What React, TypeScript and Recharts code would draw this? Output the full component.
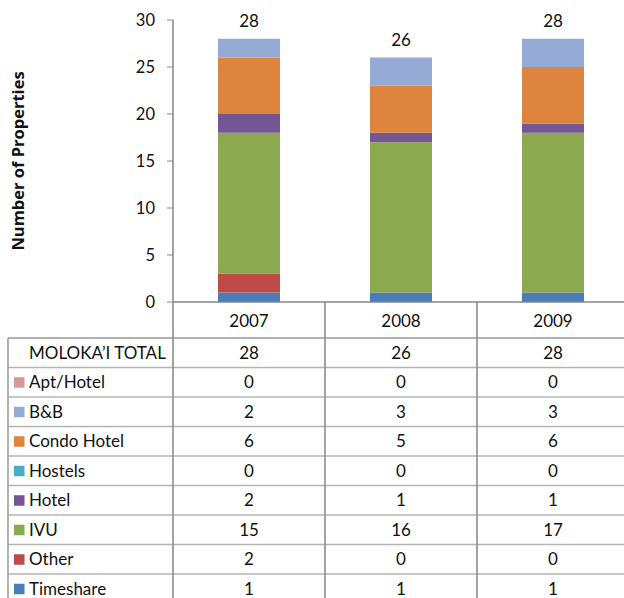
import React from 'react';
import * as Recharts from 'recharts';
import { BarChart, Bar, XAxis, YAxis, LabelList, Customized } from 'recharts';

const years = ['2007', '2008', '2009'];
const totals = [28, 26, 28];
const aptHotel = [0, 0, 0];
const bnb = [2, 3, 3];
const condoHotel = [6, 5, 6];
const hostels = [0, 0, 0];
const hotel = [2, 1, 1];
const ivu = [15, 16, 17];
const other = [2, 0, 0];
const timeshare = [1, 1, 1];
const yTicks = [0, 5, 10, 15, 20, 25, 30];
const totalLabel = "MOLOKA\u2019I TOTAL";
const yAxisTitle = 'Number of Properties';

// stacking order bottom -> top
const stackSeries = [
  { key: 'timeshare', name: 'Timeshare', values: timeshare, color: '#4A7EBB' },
  { key: 'other', name: 'Other', values: other, color: '#BE4B48' },
  { key: 'ivu', name: 'IVU', values: ivu, color: '#8DA94F' },
  { key: 'hotel', name: 'Hotel', values: hotel, color: '#735692' },
  { key: 'hostels', name: 'Hostels', values: hostels, color: '#4BACC6' },
  { key: 'condoHotel', name: 'Condo Hotel', values: condoHotel, color: '#DD843F' },
  { key: 'bnb', name: 'B&B', values: bnb, color: '#95ABD6' },
  { key: 'aptHotel', name: 'Apt/Hotel', values: aptHotel, color: '#D99694' },
];
// table row order
const tableOrder = ['aptHotel', 'bnb', 'condoHotel', 'hostels', 'hotel', 'ivu', 'other', 'timeshare'];

const data = years.map((y, i) => {
  const row: any = { year: y, total: totals[i] };
  stackSeries.forEach((s) => { row[s.key] = s.values[i]; });
  return row;
});

const W = 624;
const H = 598;
const FONT = 'Lato, "Open Sans", sans-serif';
const FS = 17;
const AXIS = '#868686';

const R: any = Recharts;

function TableLayer() {
  const plotHook = R.usePlotArea ? R.usePlotArea() : null;
  const plot = plotHook || { x: 173, y: 20, width: 456, height: 282 };
  const bottom = plot.y + plot.height;
  const colW = plot.width / years.length;
  const right = plot.x + plot.width;
  const tableTop = bottom + 36;
  const rowH = 29.5;
  const tableLeft = 8;

  const rows: { label: string; color?: string; values: number[] }[] = [
    { label: totalLabel, values: totals },
    ...tableOrder.map((k) => {
      const s = stackSeries.find((x) => x.key === k)!;
      return { label: s.name, color: s.color, values: s.values };
    }),
  ];

  const lines: any[] = [];
  for (let k = 0; k <= rows.length; k++) {
    const y = tableTop + k * rowH;
    lines.push(
      <line key={'h' + k} x1={tableLeft} x2={right} y1={y} y2={y}
        stroke={k === 0 ? '#9a9a9a' : '#b4b4b4'} strokeWidth={1.5} />
    );
  }
  lines.push(<line key="vl" x1={tableLeft} x2={tableLeft} y1={tableTop} y2={H} stroke="#9a9a9a" strokeWidth={1.5} />);
  for (let i = 0; i <= years.length; i++) {
    const x = plot.x + i * colW;
    lines.push(<line key={'v' + i} x1={x} x2={x} y1={bottom} y2={H} stroke={AXIS} strokeWidth={1.5} />);
  }

  return (
    <g>
      {lines}
      {rows.map((r, k) => {
        const cy = tableTop + k * rowH + rowH / 2;
        return (
          <g key={'r' + k}>
            {r.color && <rect x={14} y={cy - 5} width={10.5} height={10.5} fill={r.color} />}
            <text x={29} y={cy + 6} fontSize={FS} fontFamily={FONT} fill="#111">{r.label}</text>
            {r.values.map((v, i) => (
              <text key={i} x={plot.x + (i + 0.5) * colW} y={cy + 6} fontSize={FS}
                fontFamily={FONT} fill="#111" textAnchor="middle">{v}</text>
            ))}
          </g>
        );
      })}
      <text transform={`translate(24, ${plot.y + plot.height / 2}) rotate(-90)`} textAnchor="middle"
        fontSize={16.5} fontWeight="bold" fontFamily='"Open Sans", Lato, sans-serif' fill="#111">{yAxisTitle}</text>
    </g>
  );
}

export default function App() {
  return (
    <div style={{ position: 'absolute', left: 0, top: 0, width: W, height: H, background: '#fff' }}>
      <BarChart width={W} height={H} data={data}
        margin={{ top: 20, right: -5, bottom: 258, left: 0 }}>
        <XAxis dataKey="year" height={38} axisLine={{ stroke: AXIS, strokeWidth: 1.5 }} tickLine={false}
          tickMargin={7} tick={{ fontSize: FS, fill: '#111', fontFamily: FONT }} interval={0} />
        <YAxis width={173} domain={[0, 30]} ticks={yTicks} axisLine={{ stroke: AXIS, strokeWidth: 1.5 }}
          tickLine={{ stroke: AXIS }} tickSize={6} tickMargin={12}
          tick={{ fontSize: 16.5, fill: '#111', fontFamily: FONT }} interval={0} allowDataOverflow />
        {stackSeries.map((s) => (
          <Bar key={s.key} dataKey={s.key} name={s.name} stackId="a" fill={s.color} barSize={62}
            isAnimationActive={false}>
            {s.key === 'bnb' && (
              <LabelList dataKey="total" position="top" offset={12}
                style={{ fontSize: FS, fill: '#111', fontFamily: FONT }} />
            )}
          </Bar>
        ))}
        <Customized component={<TableLayer />} />
      </BarChart>
    </div>
  );
}
